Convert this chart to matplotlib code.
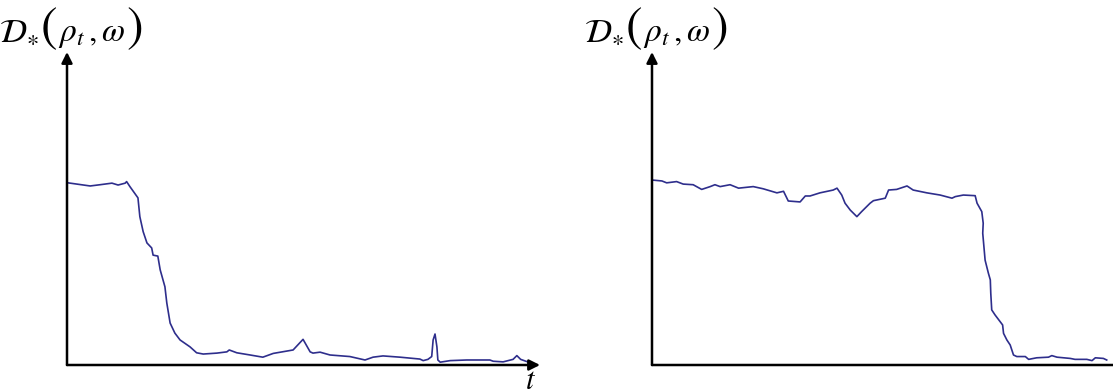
import matplotlib
matplotlib.use("Agg")
import matplotlib.pyplot as plt
from matplotlib.offsetbox import TextArea, HPacker, AnnotationBbox

plt.rcParams["mathtext.fontset"] = "stix"
plt.rcParams["font.family"] = "STIXGeneral"

# left panel: divergence over time, drops early
t_left = [0.2, 4.9, 7.0, 9.5, 10.8, 12.3, 12.6, 13.3, 15.0, 15.4, 16.1, 16.9,
          17.9, 18.2, 19.2, 19.7, 20.7, 21.1, 21.8, 22.8, 23.9, 26.0, 27.4,
          28.8, 31.7, 33.8, 34.3, 35.9, 38.7, 41.4, 43.6, 47.8, 49.9, 51.4,
          52.0, 53.5, 55.6, 59.8, 63.0, 64.7, 66.8, 70.4, 74.6, 75.3, 76.3,
          77.1, 77.4, 77.8, 78.2, 78.4, 78.9, 81.0, 84.5, 89.4, 90.1, 92.2,
          94.3, 95.1, 95.9, 97.2, 98.3]
d_left = [0.582, 0.572, 0.576, 0.581, 0.575, 0.581, 0.586, 0.570, 0.534, 0.474,
          0.426, 0.390, 0.374, 0.351, 0.348, 0.304, 0.250, 0.198, 0.134, 0.102,
          0.080, 0.058, 0.039, 0.035, 0.038, 0.042, 0.048, 0.039, 0.032, 0.025,
          0.037, 0.048, 0.082, 0.042, 0.038, 0.041, 0.032, 0.027, 0.016, 0.025,
          0.029, 0.025, 0.019, 0.014, 0.018, 0.027, 0.080, 0.099, 0.058, 0.016,
          0.009, 0.014, 0.016, 0.016, 0.012, 0.010, 0.018, 0.030, 0.018, 0.011,
          0.005]

# right panel: divergence stays high, drops late
t_right = [0.0, 2.1, 3.1, 5.2, 6.6, 8.7, 10.5, 12.3, 13.3, 14.4, 16.5, 18.3,
           21.4, 23.5, 26.4, 27.8, 28.8, 31.3, 32.4, 33.4, 35.5, 38.3, 39.1,
           40.1, 40.8, 41.9, 43.3, 44.3, 46.1, 46.8, 49.3, 50.0, 51.7, 53.9,
           55.2, 58.1, 60.9, 63.4, 64.1, 65.8, 68.3, 68.7, 69.7, 70.0, 69.9,
           70.4, 71.1, 71.5, 71.6, 71.8, 72.5, 73.6, 74.1, 74.3, 75.0, 75.7,
           76.4, 77.1, 78.9, 79.6, 81.3, 83.8, 84.5, 85.6, 88.4, 89.4, 91.9,
           93.0, 93.7, 95.4, 96.1]
d_right = [0.591, 0.588, 0.582, 0.586, 0.578, 0.576, 0.561, 0.570, 0.576, 0.570,
           0.576, 0.565, 0.570, 0.563, 0.550, 0.555, 0.524, 0.521, 0.540, 0.540,
           0.550, 0.559, 0.565, 0.543, 0.517, 0.495, 0.474, 0.490, 0.517, 0.525,
           0.533, 0.559, 0.561, 0.572, 0.559, 0.550, 0.543, 0.533, 0.538, 0.543,
           0.541, 0.517, 0.490, 0.453, 0.421, 0.335, 0.293, 0.272, 0.229, 0.176,
           0.160, 0.138, 0.128, 0.101, 0.080, 0.064, 0.032, 0.027, 0.027, 0.018,
           0.023, 0.025, 0.030, 0.025, 0.021, 0.018, 0.018, 0.014, 0.023, 0.021,
           0.016]

line_color = "#2e2e8c"


def y_label():
    # D*( rho_t, omega ) with tall brackets, built from pieces on one baseline
    small = dict(size=24)
    big = dict(size=36, family="STIXGeneral")
    parts = [TextArea(r"$\mathcal{D}_{\ast}$", textprops=small),
             TextArea("(", textprops=big),
             TextArea(r"$\rho_t\,,\omega$", textprops=small),
             TextArea(")", textprops=big)]
    return HPacker(children=parts, align="baseline", pad=0, sep=1)


fig = plt.figure(figsize=(11.13, 3.89), dpi=100)
ax1 = fig.add_axes([0.0602, 0.0617, 0.425, 0.8046])
# right panel's time axis runs past the image edge
ax2 = fig.add_axes([0.5858, 0.0617, 0.44, 0.8046])

arrow = dict(arrowstyle="-|>", lw=1.8, color="black", mutation_scale=16,
             shrinkA=0, shrinkB=0)

for ax, t, d, xmax in [(ax1, t_left, d_left, 100), (ax2, t_right, d_right, 103.5)]:
    ax.plot(t, d, color=line_color, lw=1.2)
    ax.set_xlim(0, xmax)
    ax.set_ylim(0, 1)
    ax.axis("off")
    ax.annotate("", xy=(0, 1), xytext=(0, 0), xycoords="axes fraction",
                arrowprops=arrow, annotation_clip=False)
    ax.annotate("", xy=(1, 0), xytext=(0, 0), xycoords="axes fraction",
                arrowprops=arrow, annotation_clip=False)
    ab = AnnotationBbox(y_label(), (0, 1), xycoords="axes fraction",
                        xybox=(3, 0), boxcoords="offset points",
                        box_alignment=(0.5, 0.0), frameon=False,
                        annotation_clip=False)
    ax.add_artist(ab)

ax1.annotate(r"$t$", xy=(0.98, 0), xycoords="axes fraction",
             xytext=(0, -2), textcoords="offset points",
             ha="center", va="top", fontsize=22)

plt.savefig("out.png", dpi=100)
